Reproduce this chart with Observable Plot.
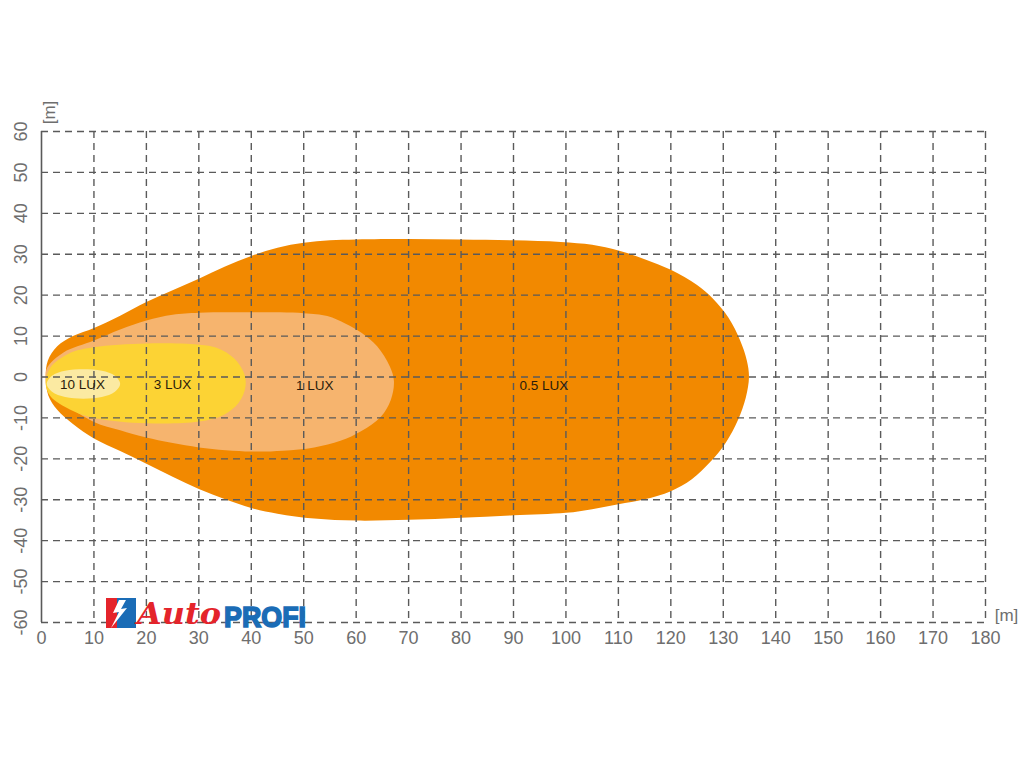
<!DOCTYPE html>
<html><head><meta charset="utf-8">
<script src="https://cdn.jsdelivr.net/npm/d3@7"></script>
<script src="https://cdn.jsdelivr.net/npm/@observablehq/plot@0.6"></script>
<style>
body{margin:0;background:#fff;}
#wrap{position:relative;width:1024px;height:768px;overflow:hidden;}
#logo{position:absolute;left:104px;top:594px;line-height:0;}
#logo svg{overflow:visible;}
</style>
</head><body><div id="wrap"></div>
<script>
// Iso-lux contours: [distance m, lateral m]
const lux05Points = [[0.8,0],[1.2,4],[3,7.5],[6,10],[10,12],[15,15],[20,18.3],[25,21.2],[30,24],[35,27],[40,29.6],[45,31.6],[50,32.8],[55,33.4],[60,33.6],[70,33.7],[80,33.6],[90,33.4],[99,33],[105,32.3],[110,30.9],[115,28.8],[120,26.2],[125,22.5],[128,19.2],[131,14.5],[133.2,9],[134.5,4],[134.9,0],[134.3,-5],[132.8,-10.5],[130.5,-16],[127.5,-20.8],[124,-25],[120,-27.9],[115,-29.9],[110,-31.1],[105,-32.3],[100,-33.2],[90,-33.8],[80,-34.4],[70,-34.9],[60,-35.1],[52,-34.6],[45,-33.4],[40,-32],[35,-29.9],[30,-27.4],[25,-24.4],[20,-21.2],[15,-18.1],[10,-15],[6,-11.5],[3,-8],[1.3,-4.5]];
const lux1Points = [[0.8,0],[1.1,2.3],[4.2,6],[10,8.9],[15,11.6],[20,13.8],[25,15.2],[30,15.7],[40,15.8],[50,15.6],[54.5,14.9],[58,13],[61,10.8],[64,7.5],[66.4,2.6],[67.2,-1],[66.6,-5.6],[64.7,-9.7],[61,-13.2],[57,-15.6],[52,-17.2],[46,-18],[40,-18.2],[30,-17.2],[20,-14.8],[15,-13],[10,-11],[4.2,-6.3],[1.1,-3]];
const lux3Points = [[0.8,-1.5],[1.7,2.3],[5.5,5.9],[10,7.3],[20,8.2],[30,7.9],[33.5,7.1],[36.7,4.6],[38.6,1],[38.9,-2.3],[37.6,-6.3],[34.8,-9.2],[30,-10.9],[20,-11.3],[10,-10],[5.5,-8],[1.7,-4.7]];
const lux10Points = [[1,-1.7],[2,0.3],[4.5,1.5],[8,1.9],[11.5,1.5],[14,0.3],[15,-1.7],[14,-3.6],[11.5,-4.9],[8,-5.3],[4.5,-4.9],[2,-3.6]];

const luxLabels = ["10 LUX", "3 LUX", "1 LUX", "0.5 LUX"];
const luxLabelX = [7.8, 25, 52.1, 95.8];
const luxLabelY = [-1.9, -1.9, -2.1, -2.1];

const xTicks = [0,10,20,30,40,50,60,70,80,90,100,110,120,130,140,150,160,170,180];
const yTicks = [-60,-50,-40,-30,-20,-10,0,10,20,30,40,50,60];
const xGridLines = [10,20,30,40,50,60,70,80,90,100,110,120,130,140,150,160,170,180];

const labelRows = luxLabels.map((t, i) => ({t, x: luxLabelX[i], y: luxLabelY[i]}));

const shape = (pts, color) => Plot.line(pts, {x: d => d[0], y: d => d[1], curve: "catmull-rom-closed", fill: color, stroke: "none"});

const gridStyle = {stroke: "#5a5a5a", strokeOpacity: 1, strokeWidth: 1.4, strokeDasharray: "7,5"};

const chart = Plot.plot({
  width: 1024, height: 768,
  marginLeft: 41, marginRight: 39, marginTop: 131, marginBottom: 146,
  style: {fontFamily: "'Liberation Sans', Arial, sans-serif", background: "#fff"},
  x: {domain: [0, 180], label: null},
  y: {domain: [-60, 60], axis: null, label: null},
  marks: [
    shape(lux05Points, "#f28900"),
    shape(lux1Points, "#f6b46e"),
    shape(lux3Points, "#fcd334"),
    shape(lux10Points, "#fbeaa2"),
    Plot.gridX(xGridLines, gridStyle),
    Plot.gridY(yTicks, gridStyle),
    Plot.ruleX([0], {stroke: "#5a5a5a", strokeWidth: 1.6}),
    Plot.text(labelRows, {x: "x", y: "y", text: "t", fontSize: 13.5, fill: "#2a1c0c"}),
    Plot.axisX(xTicks, {tickSize: 0, tickPadding: 9, fontSize: 18, fill: "#6e6e6e", tickFormat: d => String(d), label: null}),
    Plot.text(yTicks, {y: d => d, text: d => String(d), frameAnchor: "left", dx: -20, rotate: -90, fontSize: 18, fill: "#6e6e6e", textAnchor: "middle", lineAnchor: "middle"}),
    Plot.text(["[m]"], {frameAnchor: "top-left", dx: 8, dy: -19, rotate: -90, fontSize: 17, fill: "#6e6e6e", textAnchor: "middle", lineAnchor: "middle"}),
    Plot.text(["[m]"], {frameAnchor: "bottom-right", dx: 21, dy: -7, fontSize: 17, fill: "#6e6e6e", textAnchor: "middle", lineAnchor: "middle"})
  ]
});
const wrap = document.getElementById("wrap");
wrap.appendChild(chart);

const logo = document.createElement("div");
logo.id = "logo";
logo.innerHTML = `<svg width="205" height="36" viewBox="0 0 205 36">
  <rect x="2" y="4" width="12" height="30" fill="#e4242b"/>
  <rect x="13" y="4" width="19" height="30" fill="#1a6cb6"/>
  <polygon points="15,6 9,19 15,18 7,34 23,14 17,15 22,6" fill="#fff"/>
  <text x="33" y="30" font-family="'DejaVu Serif', serif" font-style="italic" font-weight="bold" font-size="30" fill="#e4242b" textLength="84" lengthAdjust="spacingAndGlyphs">Auto</text>
  <text x="120" y="33" font-family="'Liberation Sans', Arial, sans-serif" font-weight="bold" font-size="29" fill="#1a6cb6" stroke="#1a6cb6" stroke-width="1.6" textLength="82" lengthAdjust="spacingAndGlyphs">PROFI</text>
</svg>`;
wrap.appendChild(logo);
</script>
</body></html>
